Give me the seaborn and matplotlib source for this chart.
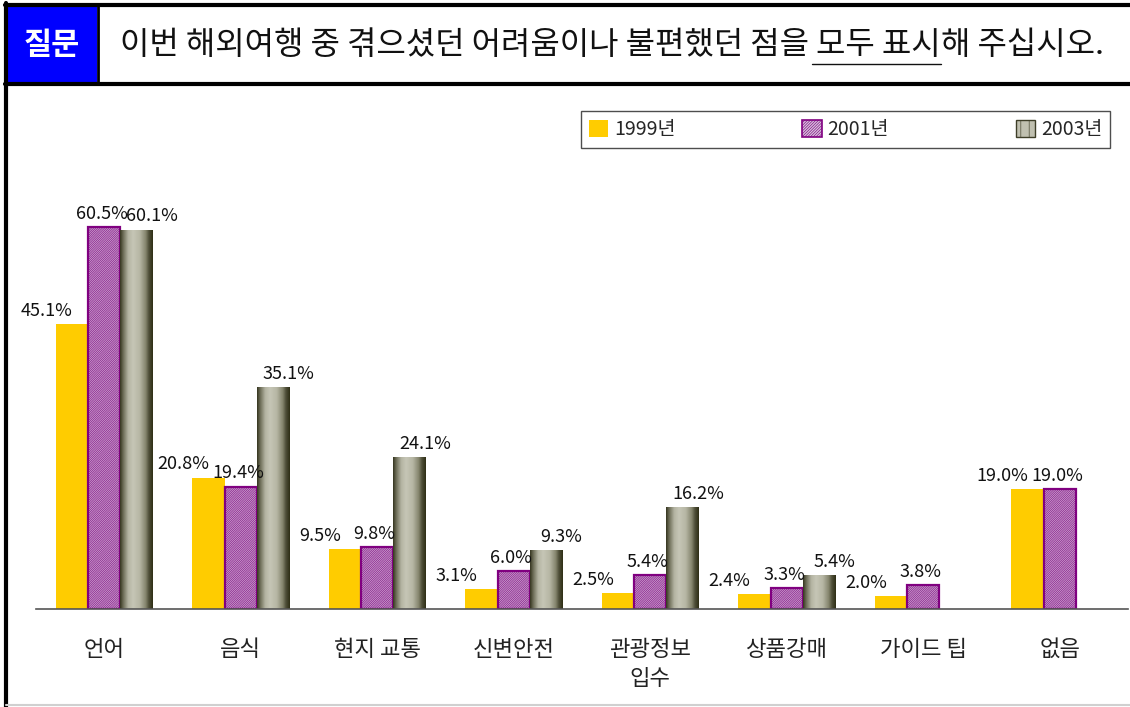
import numpy as np
import pandas as pd
import matplotlib
matplotlib.use("Agg")
import matplotlib.pyplot as plt
import matplotlib.patches as mpatches
from matplotlib.colors import LinearSegmentedColormap
from matplotlib.lines import Line2D
import seaborn as sns

# --- data -------------------------------------------------------------
categories = ["언어", "음식", "현지 교통", "신변안전", "관광정보\n입수", "상품강매", "가이드 팁", "없음"]
years = ["1999년", "2001년", "2003년"]
values_1999 = [45.1, 20.8, 9.5, 3.1, 2.5, 2.4, 2.0, 19.0]
values_2001 = [60.5, 19.4, 9.8, 6.0, 5.4, 3.3, 3.8, 19.0]
values_2003 = [60.1, 35.1, 24.1, 9.3, 16.2, 5.4, np.nan, np.nan]

question_tag = "질문"
question_head = "이번 해외여행 중 겪으셨던 어려움이나 불편했던 점을 "
question_mark = "모두 표시"
question_tail = "해 주십시오."

df = pd.DataFrame({
    "category": categories * 3,
    "year": [y for y in years for _ in categories],
    "value": values_1999 + values_2001 + values_2003,
}).dropna()

sns.set_theme(style="white")
plt.rcParams["font.family"] = ["Noto Sans CJK KR", "DejaVu Sans"]
plt.rcParams["hatch.linewidth"] = 0.45

W, H = 1130, 707
fig = plt.figure(figsize=(W / 100, H / 100), dpi=100)
fig.patch.set_facecolor("white")

def fx(px):
    return px / W

def fy(py):
    return 1 - py / H

ax = fig.add_axes([fx(36), fy(609), fx(1128) - fx(36), fy(167) - fy(609)])

yellow = "#FFCC00"
purple_edge = "#800080"
purple_fill = "#d6c4dc"
sns.barplot(data=df, x="category", y="value", hue="year",
            order=categories, hue_order=years,
            palette=[yellow, purple_fill, "#b8b8a8"],
            width=0.71, saturation=1, errorbar=None, ax=ax, legend=False)

cont_99, cont_01, cont_03 = ax.containers[:3]

for p in cont_99.patches:
    p.set_edgecolor("none")

for p in cont_01.patches:
    p.set_facecolor(purple_fill)
    p.set_edgecolor(purple_edge)
    p.set_linewidth(1.6)
    p.set_hatch("/" * 18)

# cylinder-style shading on the 2003 bars
cyl = LinearSegmentedColormap.from_list("cyl", [
    (0.00, "#34341e"), (0.10, "#6e6e58"), (0.25, "#b4b4a2"), (0.40, "#c6c6b6"),
    (0.60, "#b6b6a4"), (0.78, "#86866e"), (0.88, "#4e4e38"), (1.00, "#2e2e14")])
grad = np.linspace(0, 1, 256).reshape(1, -1)
for p in cont_03.patches:
    h = p.get_height()
    if not np.isfinite(h) or h == 0:
        continue
    x0, w = p.get_x(), p.get_width()
    p.set_facecolor("none")
    p.set_edgecolor("none")
    im = ax.imshow(grad, cmap=cyl, extent=[x0, x0 + w, 0, h], aspect="auto",
                   interpolation="bilinear", zorder=p.get_zorder())
    im.set_clip_path(p)

ax.set_xlim(-0.5, len(categories) - 0.5)
ax.set_ylim(0, 70)

# value labels, nudged sideways per series
offsets = [-18, -2, 11]
for cont, dx in zip([cont_99, cont_01, cont_03], offsets):
    for p in cont.patches:
        h = p.get_height()
        if not np.isfinite(h) or h == 0:
            continue
        ax.annotate(f"{h:.1f}%", xy=(p.get_x() + p.get_width() / 2, h),
                    xytext=(dx, 3), textcoords="offset points",
                    ha="center", va="bottom", fontsize=13, color="#111111")

# axes styling
for side in ["top", "right", "left"]:
    ax.spines[side].set_visible(False)
ax.spines["bottom"].set_color("#555555")
ax.spines["bottom"].set_linewidth(1.2)
ax.set_yticks([])
ax.set_xlabel("")
ax.set_ylabel("")
ax.set_xticks(range(len(categories)))
ax.set_xticklabels(categories, fontsize=16, color="#222222", linespacing=1.35)
ax.tick_params(axis="x", which="major", length=0, pad=21)
ax.set_xticks(np.arange(-0.5, len(categories), 1.0), minor=True)
ax.tick_params(axis="x", which="minor", direction="in", length=8,
               width=1.0, color="#555555")
ax.set_facecolor("white")

# legend
handles = [
    mpatches.Patch(facecolor=yellow, edgecolor="none", label=years[0]),
    mpatches.Patch(facecolor=purple_fill, edgecolor=purple_edge, hatch="/" * 12,
                   linewidth=1.2, label=years[1]),
    mpatches.Patch(facecolor="#c0c0b0", edgecolor="#3e3e28", hatch="||",
                   linewidth=1.0, label=years[2]),
]
leg = fig.legend(handles=handles, loc="lower left", ncol=3, mode="expand",
                 bbox_to_anchor=(fx(581), fy(148), fx(1110) - fx(581), fy(108) - fy(148)),
                 frameon=True, fancybox=False, fontsize=14, handlelength=1.0,
                 handleheight=1.0, handletextpad=0.3, borderpad=0.4,
                 borderaxespad=0)
leg.get_frame().set_edgecolor("#222222")
leg.get_frame().set_linewidth(1.0)

# header band and outer frame
fig.add_artist(mpatches.Rectangle((fx(7), fy(83)), fx(97) - fx(7), fy(5) - fy(83),
                                  transform=fig.transFigure, facecolor="#0000FF",
                                  edgecolor="none", zorder=1))
fig.text((fx(7) + fx(97)) / 2, fy(45), question_tag, color="white",
         fontsize=22, fontweight="bold", ha="center", va="center")
frame_lines = [
    ((fx(5), fx(1130)), (fy(5), fy(5)), 3.0, "black"),
    ((fx(5), fx(1130)), (fy(84), fy(84)), 3.0, "black"),
    ((fx(6), fx(6)), (fy(3), fy(707)), 3.0, "black"),
    ((fx(98), fx(98)), (fy(5), fy(84)), 2.0, "black"),
    ((fx(6), fx(1130)), (fy(705), fy(705)), 1.5, "#d0d0d0"),
]
for xs, ys, lw, c in frame_lines:
    fig.add_artist(Line2D(xs, ys, transform=fig.transFigure, color=c, lw=lw))

# question text, with the emphasised phrase underlined
title_size = 23
renderer = fig.canvas.get_renderer()
t1 = fig.text(fx(120), fy(45), question_head, fontsize=title_size, color="#111111",
              ha="left", va="center")
b1 = t1.get_window_extent(renderer)
t2 = fig.text(b1.x1 / W, fy(45), question_mark, fontsize=title_size, color="#111111",
              ha="left", va="center")
b2 = t2.get_window_extent(renderer)
t3 = fig.text(b2.x1 / W, fy(45), question_tail, fontsize=title_size, color="#111111",
              ha="left", va="center")
fig.add_artist(Line2D((b2.x0 / W - 0.004, b2.x1 / W), (fy(64), fy(64)),
                      transform=fig.transFigure, color="#111111", lw=1.0))

fig.savefig("out.png", dpi=100, facecolor="white")
